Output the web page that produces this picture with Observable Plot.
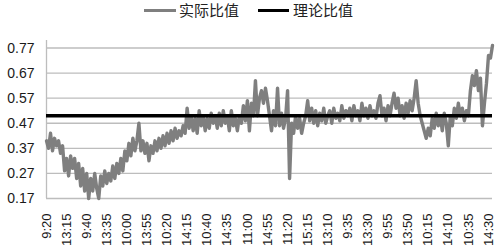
<!DOCTYPE html>
<html><head><meta charset="utf-8">
<script src="https://cdn.jsdelivr.net/npm/d3@7"></script>
<script src="https://cdn.jsdelivr.net/npm/@observablehq/plot@0.6"></script>
<style>
body{margin:0;background:#fff;}
#wrap{position:relative;width:495px;height:250px;}
#legend{position:absolute;top:0;left:0;width:495px;height:22px;font-family:"Noto Sans CJK SC",sans-serif;font-size:15px;color:#222;}
.sw{position:absolute;height:3px;top:9px;}
.lt{position:absolute;top:-1px;line-height:22px;}
#chart{position:absolute;top:0;left:0;}
</style>
</head><body>
<div id="wrap">
  <div id="chart"></div>
  <div id="legend"></div>
</div>
<script>
// Tick labels (one every 10 points)
const times = ["9:20","13:15","9:40","13:35","10:00","13:55","10:20","14:15","10:40","14:35","11:00","14:55","11:20","15:15","13:10","9:35","13:30","9:55","13:50","10:15","14:10","10:35","14:30"];
const yTicks = [0.17,0.27,0.37,0.47,0.57,0.67,0.77];
const theory = 0.50;
const seriesNames = ["实际比值","理论比值"];
const seriesColors = ["#7f7f7f","#000000"];
// Actual ratio series
const ratio = [
0.40,0.37,0.43,0.36,0.41,0.38,0.40,0.35,0.38,0.28,
0.33,0.26,0.34,0.29,0.33,0.25,0.31,0.22,0.29,0.20,
0.27,0.17,0.25,0.20,0.27,0.21,0.17,0.26,0.22,0.28,
0.23,0.27,0.24,0.30,0.25,0.31,0.27,0.33,0.28,0.36,
0.32,0.39,0.34,0.41,0.36,0.40,0.47,0.36,0.40,0.35,
0.39,0.32,0.38,0.35,0.40,0.36,0.41,0.37,0.42,0.38,
0.43,0.39,0.44,0.40,0.45,0.41,0.44,0.42,0.46,0.43,
0.53,0.45,0.50,0.44,0.49,0.43,0.52,0.46,0.50,0.44,
0.49,0.45,0.51,0.47,0.50,0.45,0.51,0.46,0.52,0.47,
0.50,0.44,0.52,0.46,0.49,0.44,0.50,0.47,0.54,0.48,
0.56,0.44,0.55,0.50,0.64,0.50,0.57,0.60,0.55,0.61,
0.56,0.50,0.44,0.52,0.46,0.61,0.46,0.51,0.45,0.49,
0.60,0.25,0.47,0.43,0.50,0.45,0.49,0.43,0.47,0.50,
0.56,0.48,0.53,0.47,0.52,0.46,0.51,0.48,0.53,0.47,
0.50,0.52,0.47,0.53,0.49,0.51,0.48,0.54,0.49,0.52,
0.50,0.53,0.48,0.54,0.50,0.52,0.48,0.55,0.50,0.53,
0.49,0.54,0.50,0.52,0.49,0.55,0.58,0.50,0.53,0.48,
0.54,0.50,0.55,0.59,0.53,0.57,0.50,0.54,0.49,0.55,
0.51,0.56,0.52,0.57,0.64,0.55,0.50,0.47,0.44,0.41,
0.45,0.42,0.49,0.45,0.51,0.46,0.50,0.44,0.51,0.47,
0.38,0.50,0.46,0.53,0.49,0.55,0.50,0.53,0.48,0.52,
0.50,0.60,0.66,0.62,0.68,0.60,0.65,0.46,0.55,0.63,
0.74,0.73,0.78
];
const tickEvery = 10;
const tickIdx = times.map((t,i)=>i*tickEvery);
const data = ratio.map((v,i)=>({i, v}));

const chart = Plot.plot({
  width:495, height:250,
  marginLeft:46, marginRight:3, marginTop:40, marginBottom:52,
  style:{fontFamily:"'Liberation Sans', Arial, sans-serif", fontSize:"13px", color:"#1a1a1a", background:"transparent", overflow:"visible"},
  x:{domain:[0, ratio.length-1]},
  y:{domain:[0.17,0.80]},
  marks:[
    Plot.ruleY(yTicks,{stroke:"#bdbdbd", strokeWidth:1.3}),
    Plot.ruleX([0],{stroke:"#bdbdbd", strokeWidth:1.3}),
    Plot.axisY(yTicks,{tickSize:0, tickPadding:12, tickFormat:d=>d.toFixed(2), fontSize:14, label:null}),
    Plot.axisX(tickIdx,{tickSize:0, tickRotate:-90, tickPadding:15, tickFormat:d=>times[d/tickEvery], fontSize:13, label:null}),
    Plot.line(data,{x:"i", y:"v", stroke:seriesColors[0], strokeWidth:3.4, strokeLinejoin:"round"}),
    Plot.ruleY([theory],{stroke:seriesColors[1], strokeWidth:3.5})
  ]
});
document.getElementById("chart").appendChild(chart);

const lg = document.getElementById("legend");
const items = [{name:seriesNames[0], color:seriesColors[0], sx:144, sw:32, tx:179},
               {name:seriesNames[1], color:seriesColors[1], sx:258, sw:31, tx:293}];
items.forEach(it=>{
  const s=document.createElement("div"); s.className="sw";
  s.style.left=it.sx+"px"; s.style.width=it.sw+"px"; s.style.background=it.color;
  lg.appendChild(s);
  const t=document.createElement("div"); t.className="lt";
  t.style.left=it.tx+"px"; t.textContent=it.name;
  lg.appendChild(t);
});
</script>
</body></html>
